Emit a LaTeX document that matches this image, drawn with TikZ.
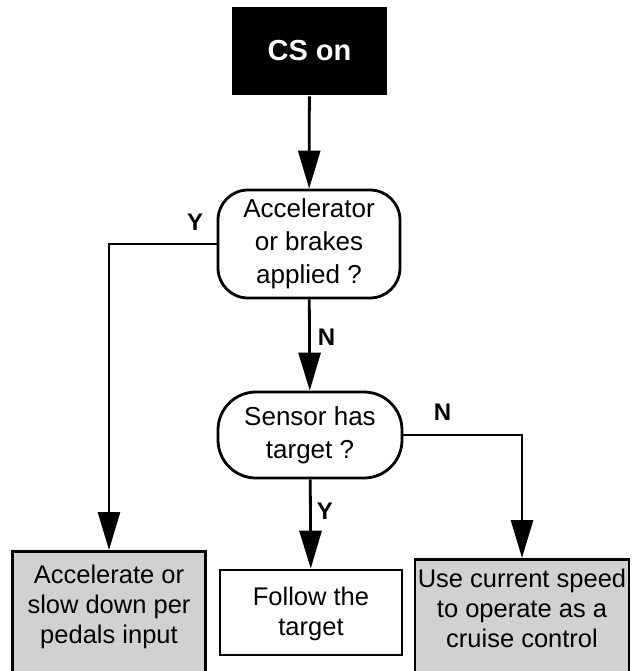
\documentclass[tikz,border=0pt]{standalone}
\usepackage{fontspec}
\setmainfont{Liberation Sans}
\usetikzlibrary{arrows.meta}
\definecolor{stipple}{gray}{0.82}
\newcommand{\boxFont}{\fontsize{25.5}{30}\selectfont}
\newcommand{\askFont}{\fontsize{26}{33}\selectfont}
\newcommand{\branchFont}{\fontsize{24}{28}\selectfont\bfseries}

\begin{document}
\begin{tikzpicture}[x=1pt, y=-1pt, line width=2.8pt, >={Triangle[length=38pt,width=22pt]}]
  \tikzset{
    ask/.style={draw, align=center, inner sep=0pt, font=\askFont},
    action/.style={draw, inner sep=0pt},
    action text/.style={align=center, inner sep=0pt, font=\boxFont},
    branch/.style={inner sep=0pt, font=\branchFont},
    flow/.style={->}
  }
  \useasboundingbox (0,0) rectangle (631,671);

  \node[fill=black, text=white, inner sep=0pt, minimum width=155pt, minimum height=88pt,
        font=\fontsize{29}{34}\selectfont\bfseries] (cson) at (309.5,51) {CS on};

  \node[ask, rounded corners=30pt, minimum width=182pt, minimum height=108pt] (pedals) at (309,244)
    {Accelerator\\or brakes\\applied ?};
  \node[ask, rounded corners=38pt, minimum width=184pt, minimum height=86pt] (sensor) at (310,435)
    {Sensor has\\target ?};

  % bottom row: the outer two boxes run off the lower edge
  \node[action, fill=stipple, minimum width=193pt, minimum height=150pt, anchor=north] (slow) at (109,550) {};
  \node[action text] (slowtext) at (109,607) {Accelerate or\\slow down per\\pedals input};

  \node[action, minimum width=182pt, minimum height=85pt] (follow) at (311,612.5) {};
  \node[action text] (followtext) at (311,614) {Follow the\\target};

  \node[action, fill=stipple, minimum width=214pt, minimum height=150pt, anchor=north] (cruise) at (522,558) {};
  \node[action text] (cruisetext) at (522,608) {Use current speed\\to operate as a\\cruise control};

  \draw[flow] (cson) -- (pedals);
  \draw[flow] (pedals) -- node[branch, pos=0.42, anchor=west, xshift=7pt] (pedalsno) {N} (sensor);
  \draw[flow] (pedals.west) -| node[branch, pos=0, anchor=south east, xshift=-12pt, yshift=12pt] (pedalsyes) {Y} (slow);
  \draw[flow] (sensor) -- node[branch, pos=0.36, anchor=west, xshift=5pt] (sensoryes) {Y} (follow);
  \draw[flow] (sensor.east) -| node[branch, pos=0, anchor=south west, xshift=29pt, yshift=13pt] (sensorno) {N} (cruise);
\end{tikzpicture}
\end{document}
